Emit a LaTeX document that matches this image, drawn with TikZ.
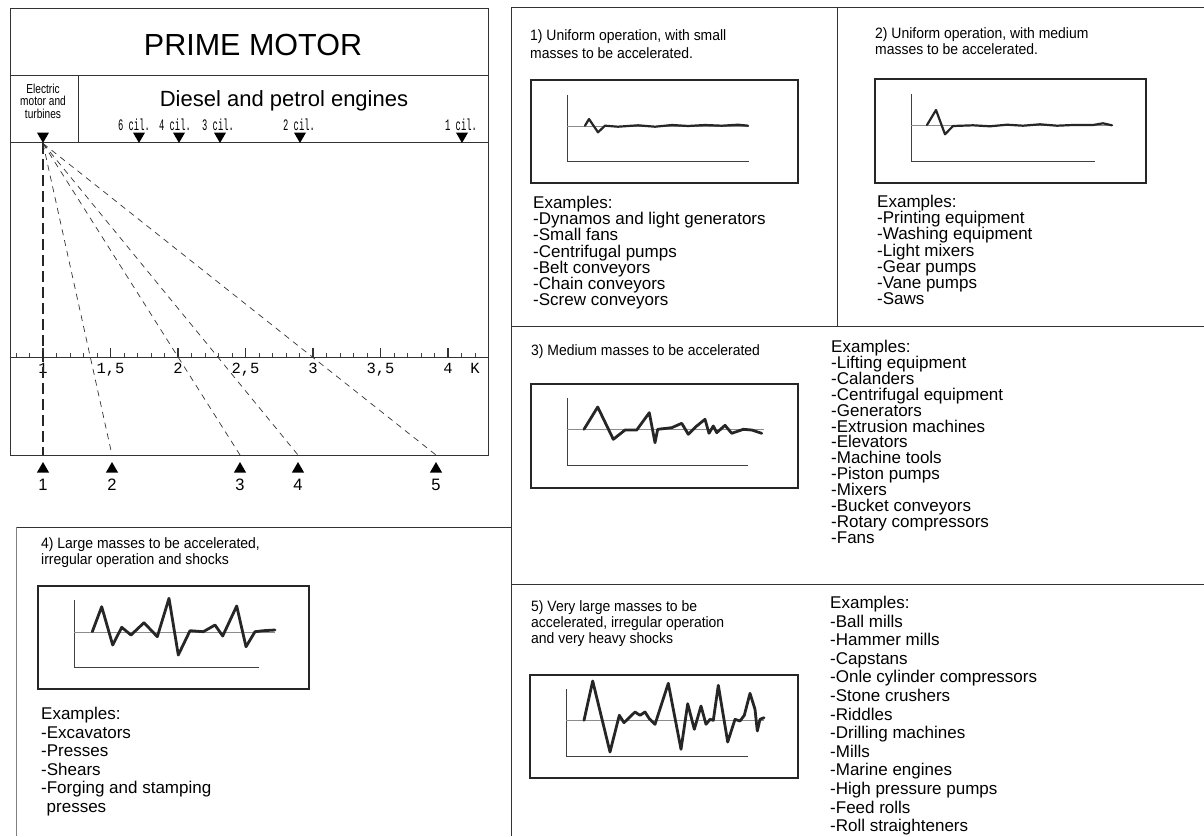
\documentclass[tikz,border=0pt]{standalone}
\usepackage{fontspec}
\setmainfont{Liberation Sans}
\newfontfamily\titlefont[FakeStretch=0.93]{Liberation Sans}
\newfontfamily\narrowfont[FakeStretch=0.78]{Liberation Sans}
\newfontfamily\scalefont{Liberation Mono}
\newfontfamily\cilfont[FakeStretch=0.55]{Liberation Mono}
\usetikzlibrary{shapes.geometric,positioning}

\begin{document}
\begin{tikzpicture}[x=1pt, y=-1pt,
  rule/.style={draw=black!80, line width=1pt},
  plotframe/.style={draw=black!85, line width=1.2pt},
  axisline/.style={draw=black!75, line width=0.9pt},
  zeroline/.style={draw=black!45, line width=1pt},
  wave/.style={draw=black!85, line width=2.8pt, line join=round, line cap=round},
  fanline/.style={draw=black!80, line width=0.7pt, dash pattern=on 6pt off 5pt},
  mainfan/.style={draw=black!85, line width=1.1pt, dash pattern=on 11pt off 5pt},
  downtri/.style={regular polygon, regular polygon sides=3, shape border rotate=180, fill=black, minimum size=14pt, inner sep=0pt},
  uptri/.style={regular polygon, regular polygon sides=3, fill=black, minimum size=14pt, inner sep=0pt},
  title/.style={anchor=north west, align=left, inner sep=0pt, font=\titlefont\fontsize{15}{16}\selectfont},
  examples/.style={anchor=north west, align=left, inner sep=0pt, font=\fontsize{17}{16.2}\selectfont}
]
\useasboundingbox (0,0) rectangle (1204,836);

% Prime motor table
\draw[rule] (10,8) rectangle (488,455);
\draw[rule] (10,75) -- (488,75);
\draw[rule] (10,142) -- (488,142);
\draw[rule] (78,75) -- (78,142);
\node[anchor=base, font=\fontsize{30.5}{36}\selectfont] (prime) at (253,55) {PRIME MOTOR};
\node[anchor=base, font=\fontsize{22}{26}\selectfont] (diesel) at (284,106) {Diesel and petrol engines};
\node[anchor=north, align=center, inner sep=0pt, font=\narrowfont\fontsize{13}{12.3}\selectfont] (electric) at (43,84) {Electric\\motor and\\turbines};
\node[downtri] (elec) at (43,136) {};

% Cylinders
\foreach \n/\tx/\lx in {6/139/134,4/179/175,3/220/218,2/300/299,1/462/461}{
  \node[anchor=base, font=\cilfont\fontsize{16}{16}\selectfont] (cil\n) at (\lx,130) {\n{} cil.};
  \node[downtri] (cyl\n) at (\tx,136) {};
}

% K scale
\draw[rule] (10,357) -- (488,357);
\foreach \k in {8,...,42}
  \draw[axisline] ({43+(\k-10)*13.5},357) -- ++(0,-4);
\foreach \k/\t in {10/1,15/{1,5},20/2,25/{2,5},30/3,35/{3,5},40/4}{
  \draw[rule, line width=1.6pt] ({43+(\k-10)*13.5},357) -- ++(0,-9);
  \node[anchor=base, font=\scalefont\fontsize{15.5}{16}\selectfont] (k\k) at ({43+(\k-10)*13.5},373) {\t};
}
\node[anchor=base, font=\scalefont\fontsize{15.5}{16}\selectfont] (kk) at (475,373) {K};

% Load classes
\coordinate (boxbottom) at (10,455);
\foreach \i/\x in {1/43,2/112,3/240,4/298,5/436}{
  \node[uptri] (m\i) at (\x,469) {};
  \node[anchor=base, font=\fontsize{16.5}{18}\selectfont] (n\i) at (\x,490) {\i};
}
\draw[mainfan] (elec.south) -- (m1.north |- boxbottom);
\foreach \i in {2,...,5}
  \draw[fanline] (elec.south) -- (m\i.north |- boxbottom);

% Frames
\draw[rule] (511,7) -- (1204,7);
\draw[rule] (511,7) -- (511,836);
\draw[rule] (837,7) -- (837,326);
\draw[rule] (511,326) -- (1204,326);
\draw[rule] (511,584) -- (1204,584);
\draw[rule] (16,527) -- (511,527);
\draw[draw=black!50, line width=0.6pt] (16,527) -- (16,836);

% Class 1
\node[title, font=\titlefont\fontsize{15}{18}\selectfont] (t1) at (530,29) {1) Uniform operation, with small\\masses to be accelerated.};
\draw[plotframe, line width=1.8pt] (531,80) rectangle (798,183);
\draw[axisline] (567,95) -- (567,161) -- (749,161);
\draw[zeroline] (567,126) -- (749,126);
\draw[wave, line width=2.2pt] plot coordinates {(585,125.7) (589,119) (598,132.3) (605,125.7) (618,126.7) (638,125.3) (655,126.7) (672,125) (688,126) (705,125) (722,125.7) (738,124.7) (748,125.7)};
\node[examples] (ex1) at (533,196) {Examples:\\-Dynamos and light generators\\-Small fans\\-Centrifugal pumps\\-Belt conveyors\\-Chain conveyors\\-Screw conveyors};

% Class 2
\node[title] (t2) at (875,27) {2) Uniform operation, with medium\\masses to be accelerated.};
\draw[plotframe] (875,79) rectangle (1146,183);
\draw[axisline] (911,94) -- (911,161) -- (1095,161);
\draw[zeroline] (911,125) -- (1112,125);
\draw[wave, line width=2.2pt] plot coordinates {(927,125) (936,110) (945,134.3) (953,126) (973,125.3) (990,126.3) (1007,124.7) (1023,125.7) (1040,124.3) (1057,125.7) (1073,125) (1093,125) (1103,123.3) (1112,125.3)};
\node[examples] (ex2) at (877,195) {Examples:\\-Printing equipment\\-Washing equipment\\-Light mixers\\-Gear pumps\\-Vane pumps\\-Saws};

% Class 3
\node[title] (t3) at (531,344) {3) Medium masses to be accelerated};
\draw[plotframe] (531,384) rectangle (798,488);
\draw[axisline] (567,398) -- (567,465) -- (748,465);
\draw[zeroline] (567,429) -- (764,429);
\draw[wave] plot coordinates {(584,429.3) (597.7,407) (613.3,439.3) (625,430) (636.7,430) (649.3,412.7) (655,442.7) (657.7,429.3) (671.7,427.7) (681.7,423.3) (688.3,434.3) (696.7,426) (705,419.3) (709,433.3) (713.3,426) (716.7,432.7) (725,425.3) (731.7,433.3) (743.3,429.3) (751.7,430) (761.7,433.3)};
\node[examples, font=\fontsize{17}{15.9}\selectfont] (ex3) at (831,340) {Examples:\\-Lifting equipment\\-Calanders\\-Centrifugal equipment\\-Generators\\-Extrusion machines\\-Elevators\\-Machine tools\\-Piston pumps\\-Mixers\\-Bucket conveyors\\-Rotary compressors\\-Fans};

% Class 4
\node[title] (t4) at (41,537) {4) Large masses to be accelerated,\\irregular operation and shocks};
\draw[plotframe] (38,586) rectangle (309,689);
\draw[axisline] (74,600) -- (74,667) -- (259,667);
\draw[zeroline] (74,632) -- (275,632);
\draw[wave] plot coordinates {(92.3,631.7) (101.7,606.7) (112.7,645) (121.7,627.3) (131,635) (144,622.7) (157.3,636.7) (169,598.3) (178.3,655) (190,630.7) (203.3,631.7) (215,625) (222.7,636) (236.7,606) (246,646.7) (255,631.7) (263.3,630.7) (275,630)};
\node[examples, font=\fontsize{17}{18.6}\selectfont] (ex4) at (41,707) {Examples:\\-Excavators\\-Presses\\-Shears\\-Forging and stamping\\\hspace*{5.5pt}presses};

% Class 5
\node[title] (t5) at (531,600) {5) Very large masses to be\\accelerated, irregular operation\\and very heavy shocks};
\draw[plotframe] (530,675) rectangle (798,778);
\draw[axisline] (566,689) -- (566,756) -- (748,756);
\draw[zeroline] (566,720) -- (764,720);
\draw[wave] plot coordinates {(584,720.3) (592.7,681) (610,752) (619.3,715.3) (624,722.7) (635,712) (640,715.3) (645,712) (649.3,718.7) (655,724.3) (668.3,683.3) (681,749.3) (687.7,703.7) (694.3,729.3) (701,706) (706,724.3) (710,719.3) (713.3,720.3) (718.3,685.3) (727.7,742) (735,719.3) (740,721) (744.3,715.3) (750,693.3) (755,709.3) (757.3,731) (760,719.3) (764,717.7)};
\node[examples, font=\fontsize{17}{18.6}\selectfont] (ex5) at (830,596) {Examples:\\-Ball mills\\-Hammer mills\\-Capstans\\-Onle cylinder compressors\\-Stone crushers\\-Riddles\\-Drilling machines\\-Mills\\-Marine engines\\-High pressure pumps\\-Feed rolls\\-Roll straighteners};

\end{tikzpicture}
\end{document}
